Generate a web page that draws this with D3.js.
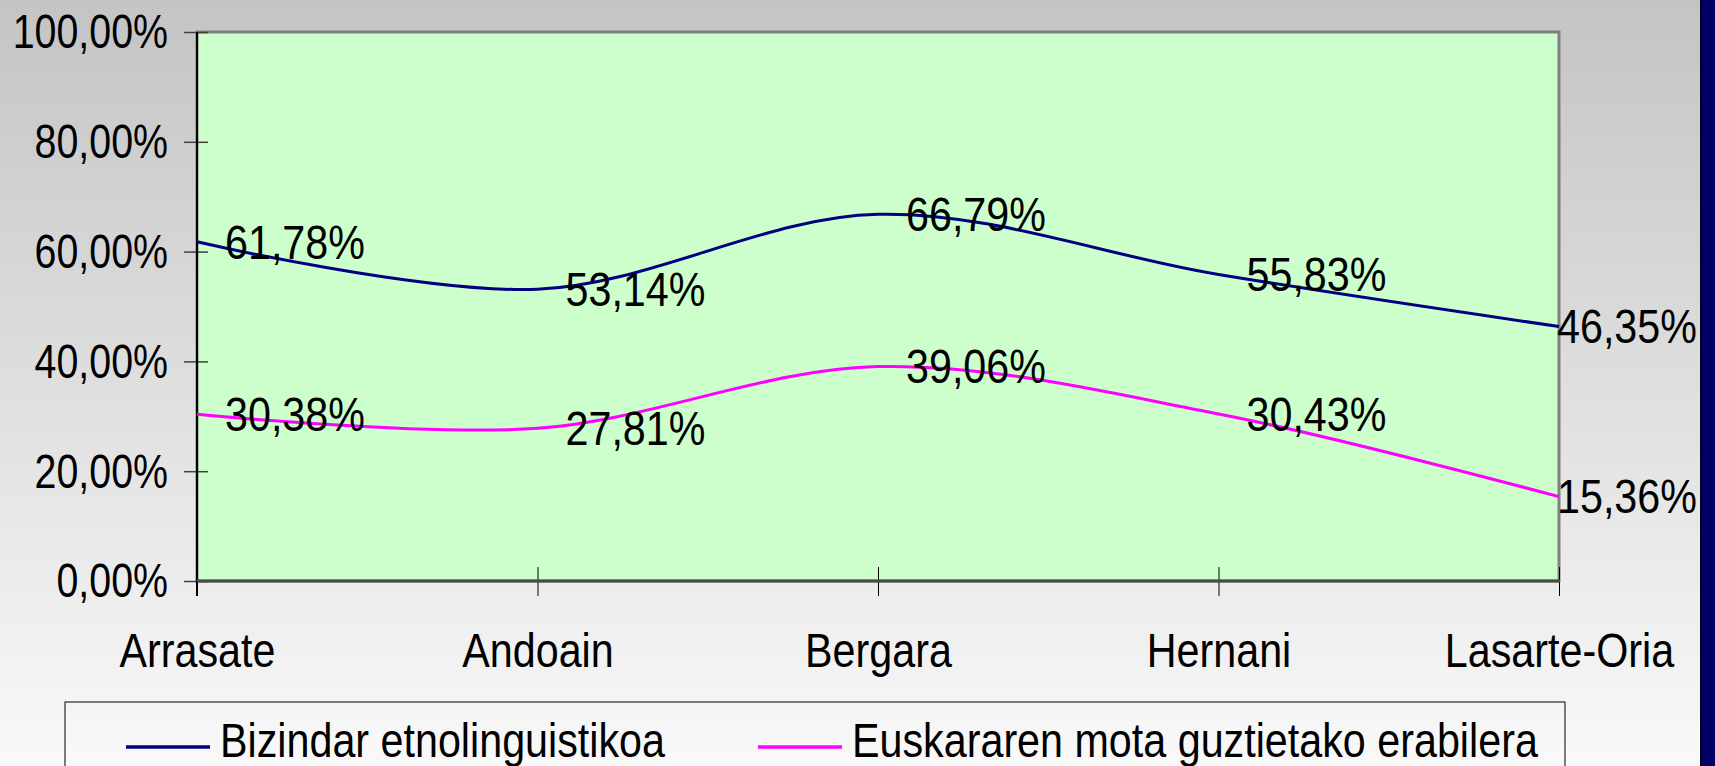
<!DOCTYPE html>
<html>
<head>
<meta charset="utf-8">
<script src="https://cdn.jsdelivr.net/npm/d3@7"></script>
<style>
  body { margin: 0; overflow: hidden; }
  text { font-family: "Liberation Sans", Arial, sans-serif; fill: #000; }
</style>
</head>
<body>
<div id="chart"></div>
<script>
// data
const categories = ["Arrasate", "Andoain", "Bergara", "Hernani", "Lasarte-Oria"];
const bizindar = [61.78, 53.14, 66.79, 55.83, 46.35];
const erabilera = [30.38, 27.81, 39.06, 30.43, 15.36];
const seriesNames = ["Bizindar etnolinguistikoa", "Euskararen mota guztietako erabilera"];
const seriesColors = ["#000080", "#ff00ff"];
const yTicks = [0, 20, 40, 60, 80, 100];

const width = 1715, height = 766;
const plot = { left: 197, right: 1559, top: 32, bottom: 581 };

const svg = d3.select("#chart").append("svg")
  .attr("width", width).attr("height", height);

// background gradient
const grad = svg.append("defs").append("linearGradient")
  .attr("id", "bg").attr("x1", 0).attr("y1", 0).attr("x2", 0).attr("y2", 1);
grad.append("stop").attr("offset", "0%").attr("stop-color", "#c4c4c4");
grad.append("stop").attr("offset", "100%").attr("stop-color", "#f9f9f9");
svg.append("rect").attr("width", width).attr("height", height).attr("fill", "url(#bg)");

// navy strip on the right
svg.append("rect").attr("x", 1700).attr("y", 0).attr("width", 15).attr("height", height).attr("fill", "#000066");
svg.append("line").attr("x1", 1701).attr("x2", 1701).attr("y1", 0).attr("y2", height)
  .attr("stroke", "#000022").attr("stroke-width", 2);

const x = d3.scalePoint().domain(categories).range([plot.left, plot.right]);
const y = d3.scaleLinear().domain([0, 100]).range([plot.bottom, plot.top]);

const fmt = v => d3.format(".2f")(v).replace(".", ",") + "%";

// the original font is drawn narrow: scale text horizontally around its anchor point
function narrow(sel, ax, ay, k) {
  sel.attr("x", 0).attr("y", 0)
    .attr("transform", `translate(${ax},${ay}) scale(${k},1)`);
}

// plot area
svg.append("rect")
  .attr("x", plot.left).attr("y", plot.top)
  .attr("width", plot.right - plot.left).attr("height", plot.bottom - plot.top)
  .attr("fill", "#ccffcc").attr("stroke", "#808080").attr("stroke-width", 3);

// y axis
const yAxis = svg.append("g")
  .attr("transform", `translate(${plot.left},0)`)
  .call(d3.axisLeft(y).tickValues(yTicks).tickFormat(fmt).tickSize(13));
yAxis.select(".domain").remove();
yAxis.selectAll(".tick line").attr("x1", 11).attr("x2", -13).attr("stroke", "#404040").attr("stroke-width", 1.5);
yAxis.selectAll(".tick text")
  .attr("dy", "0.33em").attr("text-anchor", "end")
  .style("font-size", "48px").attr("fill", "#000")
  .call(narrow, -29, 0, 0.82);
svg.append("line")
  .attr("x1", plot.left).attr("x2", plot.left)
  .attr("y1", plot.top).attr("y2", plot.bottom + 15)
  .attr("stroke", "#000").attr("stroke-width", 2);

// x axis
const xAxis = svg.append("g")
  .attr("transform", `translate(0,${plot.bottom})`)
  .call(d3.axisBottom(x).tickSize(15));
xAxis.select(".domain").remove();
xAxis.selectAll(".tick line").attr("y1", -14).attr("y2", 15).attr("stroke", "#000").attr("stroke-width", 1);
xAxis.selectAll(".tick text")
  .attr("dy", null).attr("text-anchor", "middle")
  .style("font-size", "48px").attr("fill", "#000")
  .call(narrow, 0, 86, 0.86);
svg.append("line")
  .attr("x1", plot.left).attr("x2", plot.right + 1)
  .attr("y1", plot.bottom).attr("y2", plot.bottom)
  .attr("stroke", "#4a4a4a").attr("stroke-width", 3);

// lines
const series = [bizindar, erabilera];
const line = d3.line()
  .x((d, i) => x(categories[i]))
  .y(d => y(d))
  .curve(d3.curveCatmullRom.alpha(0));

series.forEach((vals, s) => {
  svg.append("path")
    .datum(vals)
    .attr("d", line)
    .attr("fill", "none")
    .attr("stroke", seriesColors[s])
    .attr("stroke-width", 3);
});

// data labels, kept left of the navy strip
series.forEach(vals => {
  const g = svg.append("g");
  vals.forEach((v, i) => {
    const t = g.append("text")
      .attr("dy", "0.35em")
      .style("font-size", "48px")
      .text(fmt(v));
    const w = t.node().getComputedTextLength() * 0.86;
    const lx = Math.min(x(categories[i]) + 28, 1697 - w);
    t.call(narrow, lx, y(v), 0.86);
  });
});

// legend
const legend = svg.append("g");
legend.append("rect")
  .attr("x", 65).attr("y", 702).attr("width", 1500).attr("height", 120)
  .attr("fill", "none").attr("stroke", "#000").attr("stroke-width", 1);
seriesNames.forEach((name, i) => {
  const gx = 126 + i * 632;
  legend.append("line")
    .attr("x1", gx).attr("x2", gx + 84)
    .attr("y1", 747).attr("y2", 747)
    .attr("stroke", seriesColors[i]).attr("stroke-width", 3.5);
  legend.append("text")
    .style("font-size", "48px")
    .text(name)
    .call(narrow, gx + 94, 757, 0.86);
});
</script>
</body>
</html>
